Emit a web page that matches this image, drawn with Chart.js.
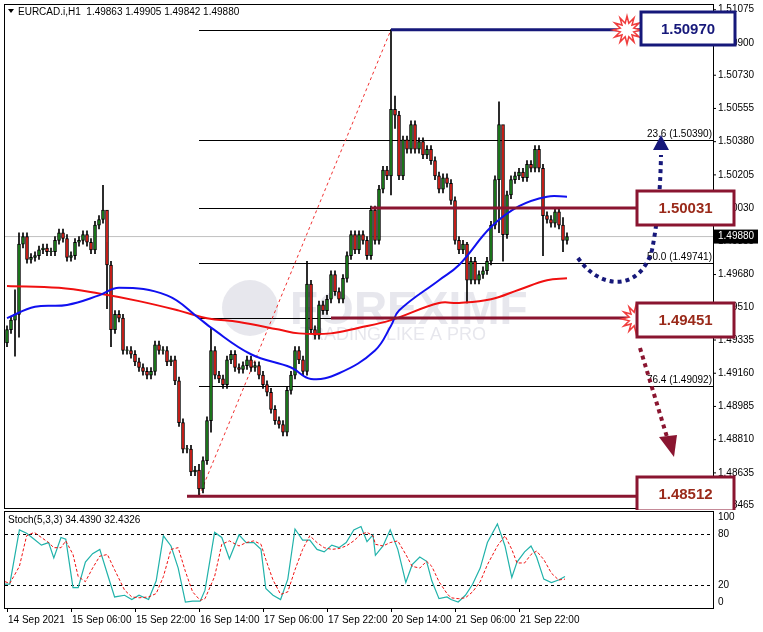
<!DOCTYPE html>
<html>
<head>
<meta charset="utf-8">
<script src="https://cdn.jsdelivr.net/npm/chart.js@4.4.0/dist/chart.umd.min.js"></script>
<style>
  body { margin: 0; background: #fff; font-family: "Liberation Sans", Arial, sans-serif; }
  #wrap { position: relative; width: 763px; height: 632px; background: #f0f0f0; }
  .box { position: absolute; left: 0; width: 763px; background: #fff; }
</style>
</head>
<body>
<div id="wrap">
  <div class="box" style="top:0;height:510px"><canvas id="main"></canvas></div>
  <div class="box" style="top:510px;height:122px"><canvas id="stoch"></canvas></div>
</div>
<script>
// закрытия свечей H1 (бар = 1 час), открытие = предыдущее закрытие
const closes = [
  1.4939, 1.4944, 1.4947, 1.4984, 1.4988, 1.4976, 1.4977, 1.4978, 1.4981, 1.4982,
  1.4980, 1.4980, 1.4986, 1.4990, 1.4987, 1.4977, 1.4978, 1.4985, 1.4986, 1.4989,
  1.4985, 1.4981, 1.4994, 1.4997, 1.5002, 1.4973, 1.4939, 1.4947, 1.4945, 1.4928,
  1.4928, 1.4926, 1.4922, 1.4919, 1.4917, 1.4915, 1.4917, 1.4931, 1.4928, 1.4928,
  1.4922, 1.4923, 1.4912, 1.4890, 1.4876, 1.4876, 1.4864, 1.4865, 1.4855, 1.4870,
  1.4891, 1.4928, 1.4915, 1.4913, 1.4910, 1.4923, 1.4926, 1.4919, 1.4918, 1.4920,
  1.4923, 1.4919, 1.4920, 1.4915, 1.4910, 1.4906, 1.4897, 1.4891, 1.4889, 1.4885,
  1.4907, 1.4915, 1.4928, 1.4923, 1.4917, 1.4963, 1.4939, 1.4936, 1.4952, 1.4949,
  1.4955, 1.4968, 1.4959, 1.4955, 1.4966, 1.4978, 1.4989, 1.4981, 1.4989, 1.4986,
  1.4978, 1.5002, 1.4986, 1.5013, 1.5023, 1.5020, 1.5055, 1.5052, 1.5020, 1.5039,
  1.5034, 1.5047, 1.5034, 1.5038, 1.5031, 1.5034, 1.5028, 1.5020, 1.5013, 1.5019,
  1.5016, 1.5007, 1.4986, 1.4981, 1.4984, 1.4965, 1.4975, 1.4965, 1.4968, 1.4970,
  1.4975, 1.4994, 1.5018, 1.5047, 1.4989, 1.5010, 1.5018, 1.5020, 1.5022, 1.5019,
  1.5026, 1.5024, 1.5034, 1.5024, 1.4999, 1.4997, 1.4995, 1.5001, 1.4994, 1.4986,
  1.4988
]
const firstOpen = 1.4932
// длинные тени: [индекс, максимум, минимум]
const wickOverrides = [
  [2, 1.4960, 1.4925], [3, 1.4990, 1.4935], [24, 1.5015, 1.4995], [25, 1.4985, 1.4950],
  [26, 1.4975, 1.4930], [48, 1.4868, 1.4851], [51, 1.4940, 1.4885], [75, 1.4975, 1.4915],
  [96, 1.5097, 1.5010], [97, 1.5062, 1.5045], [115, 1.4985, 1.4953], [123, 1.5059, 1.4990],
  [124, 1.5045, 1.4975], [134, 1.5026, 1.4978], [139, 1.4998, 1.4980]
]
const maFastBars = [0, 7, 15, 23, 28, 40, 48, 51, 61, 71, 76, 83, 92, 96, 98, 108, 113, 121, 128, 135, 140]
const maFastVals = [1.4945, 1.4951, 1.4952, 1.4957, 1.4961, 1.4957, 1.4945, 1.4940, 1.4926, 1.4919, 1.4913,
  1.4916, 1.4928, 1.4941, 1.4949, 1.4965, 1.4973, 1.4993, 1.5004, 1.5009, 1.5009]
const maSlowBars = [0, 13, 23, 33, 43, 50, 58, 68, 73, 81, 88, 96, 108, 113, 121, 128, 135, 140]
const maSlowVals = [1.4962, 1.4961, 1.4958, 1.4954, 1.4949, 1.4945, 1.4943, 1.4939, 1.4937, 1.4937,
  1.4940, 1.4944, 1.4953, 1.4953, 1.4955, 1.4960, 1.4965, 1.4966]
const stochBars = [-0.5, 0.7, 3.1, 4.9, 6.8, 8.6, 10.4, 11.7, 13.5, 14.7, 16.5, 17.8, 19.6, 21.4, 23.2, 25.1,
  26.9, 29.4, 31.2, 33.0, 35.4, 37.3, 39.1, 41.0, 42.8, 44.6, 46.4, 48.3, 49.5, 51.9, 53.7, 55.6,
  58.0, 59.8, 61.7, 63.5, 64.7, 66.5, 68.4, 70.2, 72.0, 73.9, 75.7, 77.5, 79.3, 81.2, 83.0, 84.8,
  86.7, 88.5, 90.0, 91.5, 92.1, 94.0, 95.8, 97.7, 99.7, 101.3, 103.2, 104.9, 106.2, 108.0, 110.0,
  111.0, 112.8, 114.6, 116.4, 118.3, 120.1, 122.6, 124.5, 126.2, 127.5, 129.4, 131.0, 132.4, 134.2,
  136.1, 137.9, 139.5]
const stochK = [21, 21, 85, 81, 74, 67, 70, 52, 76, 74, 17, 17, 47, 57, 62, 33, 6, 8, 3, 8, 3, 25, 78,
  66, 40, 0, 1, 1, 14, 82, 76, 51, 79, 70, 70, 62, 16, 8, 3, 27, 86, 73, 73, 62, 59, 67, 64, 70, 85,
  89, 71, 79, 55, 66, 85, 62, 23, 44, 53, 48, 25, 4, 6, 3, 0, 8, 21, 40, 70, 92, 66, 29, 47, 59, 66,
  53, 27, 23, 26, 30]
const stochD = [24, 22, 42, 78, 82, 76, 70, 64, 64, 72, 56, 30, 24, 40, 54, 56, 38, 14, 6, 5, 6, 10, 30,
  62, 64, 36, 12, 2, 4, 30, 68, 72, 66, 70, 72, 68, 50, 26, 9, 12, 38, 62, 78, 70, 64, 62, 63, 66, 72,
  80, 82, 78, 68, 66, 70, 72, 56, 42, 40, 48, 42, 24, 10, 5, 4, 5, 12, 24, 44, 66, 78, 62, 46, 46, 56,
  60, 50, 34, 26, 27]
const priceTicks = [1.51075, 1.50900, 1.50730, 1.50555, 1.50380, 1.50205, 1.50030, 1.49855,
  1.49680, 1.49510, 1.49335, 1.49160, 1.48985, 1.48810, 1.48635, 1.48465]
const timeLabels = ['14 Sep 2021', '15 Sep 06:00', '15 Sep 22:00', '16 Sep 14:00', '17 Sep 06:00',
  '17 Sep 22:00', '20 Sep 14:00', '21 Sep 06:00', '21 Sep 22:00']
// уровни Фибоначчи
const fibLevels = [1.50970, 1.50390, 1.50031, 1.49741, 1.49451, 1.49092, 1.48512]
const fibStart = 48, fibEnd = 96

const X_MIN = -0.5, X_MAX = 176.5
const Y_MIN = 1.4845, Y_MAX = 1.5110
const SMALL_FONT = '10px "Liberation Sans", Arial, sans-serif'

// свечи
const bodies = [], wicks = [], bodyColors = []
closes.forEach((c, i) => {
  const o = i === 0 ? firstOpen : closes[i - 1]
  let hi = Math.max(o, c) + 0.0002, lo = Math.min(o, c) - 0.0002
  const ov = wickOverrides.find(w => w[0] === i)
  if (ov) { hi = ov[1]; lo = ov[2] }
  const lowB = Math.min(o, c), highB = Math.max(o, c)
  bodies.push({ x: i, y: [lowB, highB === lowB ? lowB + 0.00003 : highB] })
  wicks.push({ x: i, y: [lo, hi] })
  bodyColors.push(c >= o ? '#1f8a1f' : '#e8231c')
})

function starburst(ctx, cx, cy, r1, r2) {
  ctx.beginPath()
  for (let k = 0; k < 24; k++) {
    const a = k * Math.PI / 12
    const r = k % 2 ? r2 : r1
    ctx.lineTo(cx + r * Math.cos(a), cy + r * Math.sin(a))
  }
  ctx.closePath()
  ctx.fillStyle = '#fff'; ctx.fill()
  ctx.strokeStyle = '#f03c3c'; ctx.lineWidth = 1.5; ctx.stroke()
}

function labelBox(ctx, x, y, w, h, text, color) {
  ctx.fillStyle = '#fff'
  ctx.fillRect(x, y, w, h)
  ctx.strokeStyle = color; ctx.lineWidth = 3
  ctx.strokeRect(x, y, w, h)
  ctx.fillStyle = color === '#16187a' ? '#16187a' : '#9a2a1a'
  ctx.font = 'bold 15px "Liberation Sans", Arial, sans-serif'
  ctx.textAlign = 'center'; ctx.textBaseline = 'middle'
  ctx.fillText(text, x + w / 2, y + h / 2 + 1)
}

function triangle(ctx, x1, y1, x2, y2, x3, y3, color) {
  ctx.beginPath(); ctx.moveTo(x1, y1); ctx.lineTo(x2, y2); ctx.lineTo(x3, y3); ctx.closePath()
  ctx.fillStyle = color; ctx.fill()
}

const backdrop = {
  id: 'backdrop',
  beforeDatasetsDraw(chart) {
    const { ctx, chartArea: a, scales: { x, y } } = chart
    ctx.save()
    // водяной знак
    ctx.fillStyle = 'rgba(170,170,190,0.28)'
    ctx.font = 'bold 46px "Liberation Sans", Arial, sans-serif'
    ctx.textAlign = 'left'; ctx.textBaseline = 'alphabetic'
    ctx.beginPath(); ctx.arc(250, 308, 28, 0, Math.PI * 2); ctx.fill()
    ctx.fillText('FOREXIMF', 290, 324)
    ctx.font = '18px "Liberation Sans", Arial, sans-serif'
    ctx.fillText('TRADING LIKE A PRO', 300, 340)
    // текущая цена
    const yc = y.getPixelForValue(closes[closes.length - 1])
    ctx.strokeStyle = '#c0c0c0'; ctx.lineWidth = 1
    ctx.beginPath(); ctx.moveTo(a.left, yc); ctx.lineTo(a.right, yc); ctx.stroke()
    // линии Фибоначчи
    const fx = x.getPixelForValue(fibStart)
    ctx.strokeStyle = '#000'
    fibLevels.forEach(v => {
      const py = Math.round(y.getPixelForValue(v)) + 0.5
      ctx.beginPath(); ctx.moveTo(fx, py); ctx.lineTo(a.right, py); ctx.stroke()
    })
    ctx.setLineDash([3, 3]); ctx.strokeStyle = '#f03030'
    ctx.beginPath()
    ctx.moveTo(fx, y.getPixelForValue(fibLevels[6]))
    ctx.lineTo(x.getPixelForValue(fibEnd), y.getPixelForValue(fibLevels[0]))
    ctx.stroke(); ctx.setLineDash([])
    ctx.restore()
  },
  afterDatasetsDraw(chart) {
    const { ctx, chartArea: a, scales: { x, y } } = chart
    ctx.save()
    // толстые уровни
    const thick = [[fibLevels[0], 96, '#16187a'], [fibLevels[2], 91, '#8a1530'],
      [fibLevels[4], 81, '#8a1530'], [fibLevels[6], 45, '#8a1530']]
    thick.forEach(([v, b, col]) => {
      const py = y.getPixelForValue(v)
      ctx.strokeStyle = col; ctx.lineWidth = 3
      ctx.beginPath(); ctx.moveTo(x.getPixelForValue(b), py); ctx.lineTo(640, py); ctx.stroke()
    })
    // подписи Фибоначчи
    ctx.fillStyle = '#000'; ctx.font = SMALL_FONT
    ctx.textAlign = 'right'; ctx.textBaseline = 'bottom'
    ctx.fillText('23.6 (1.50390)', a.right - 1, y.getPixelForValue(fibLevels[1]) - 1)
    ctx.fillText('50.0 (1.49741)', a.right - 1, y.getPixelForValue(fibLevels[3]) - 1)
    ctx.fillText('76.4 (1.49092)', a.right - 1, y.getPixelForValue(fibLevels[5]) - 1)
    // рамка и ось цен
    ctx.strokeStyle = '#000'; ctx.lineWidth = 1
    ctx.strokeRect(a.left - 0.5, a.top - 0.5, a.right - a.left + 1, a.bottom - a.top + 1)
    ctx.font = SMALL_FONT
    ctx.textAlign = 'left'; ctx.textBaseline = 'middle'
    priceTicks.forEach(v => {
      const py = y.getPixelForValue(v)
      ctx.fillStyle = '#000'
      ctx.beginPath(); ctx.moveTo(a.right, py); ctx.lineTo(a.right + 3, py); ctx.stroke()
      ctx.fillText(v.toFixed(5), a.right + 5, py)
    })
    const yc = y.getPixelForValue(closes[closes.length - 1])
    ctx.fillStyle = '#000'; ctx.fillRect(a.right + 1, yc - 7, 44, 14)
    ctx.fillStyle = '#fff'; ctx.fillText('1.49880', a.right + 5, yc)
    // стрелки
    ctx.lineWidth = 4; ctx.setLineDash([4, 4])
    ctx.strokeStyle = '#16187a'
    ctx.beginPath(); ctx.moveTo(578, 258)
    ctx.bezierCurveTo(600, 290, 640, 292, 652, 250)
    ctx.quadraticCurveTo(660, 210, 661, 155); ctx.stroke()
    ctx.strokeStyle = '#8a1530'
    ctx.beginPath(); ctx.moveTo(640, 348); ctx.lineTo(667, 437); ctx.stroke()
    ctx.setLineDash([])
    triangle(ctx, 653, 150, 669, 150, 661, 135, '#16187a')
    triangle(ctx, 659, 437, 677, 435, 674, 457, '#8a1530')
    // метки
    starburst(ctx, 627, 30, 14, 7)
    starburst(ctx, 636, 319, 14, 7)
    labelBox(ctx, 641, 12, 94, 33, '1.50970', '#16187a')
    labelBox(ctx, 637, 191, 97, 34, '1.50031', '#8a1530')
    labelBox(ctx, 637, 303, 97, 34, '1.49451', '#8a1530')
    labelBox(ctx, 637, 477, 97, 34, '1.48512', '#8a1530')
    // заголовок
    ctx.font = SMALL_FONT; ctx.textAlign = 'left'; ctx.textBaseline = 'middle'
    triangle(ctx, 8, 9, 14, 9, 11, 13, '#000')
    ctx.fillStyle = '#000'
    ctx.fillText('EURCAD.i,H1  1.49863 1.49905 1.49842 1.49880', 18, 12)
    ctx.restore()
  }
}

new Chart(document.getElementById('main'), {
  data: {
    datasets: [
      { type: 'bar', data: wicks, backgroundColor: '#000', barThickness: 1, grouped: false, order: 3 },
      { type: 'bar', data: bodies, backgroundColor: bodyColors, borderColor: '#000', borderWidth: 1,
        borderSkipped: false, barThickness: 3, grouped: false, order: 2 },
      { type: 'line', data: maSlowBars.map((b, i) => ({ x: b, y: maSlowVals[i] })), borderColor: '#f01010',
        borderWidth: 2, pointRadius: 0, tension: 0.4, order: 1 },
      { type: 'line', data: maFastBars.map((b, i) => ({ x: b, y: maFastVals[i] })), borderColor: '#1010f0',
        borderWidth: 2, pointRadius: 0, tension: 0.4, order: 0 }
    ]
  },
  options: {
    responsive: true, maintainAspectRatio: false, animation: false,
    layout: { padding: { left: 5, top: 5, right: 50, bottom: 2 } },
    plugins: { legend: { display: false }, tooltip: { enabled: false } },
    scales: {
      x: { type: 'linear', min: X_MIN, max: X_MAX, offset: false, display: false },
      y: { type: 'linear', min: Y_MIN, max: Y_MAX, display: false }
    }
  },
  plugins: [backdrop]
})

const stochDecor = {
  id: 'stochDecor',
  beforeDatasetsDraw(chart) {
    const { ctx, chartArea: a, scales: { y } } = chart
    ctx.save()
    ctx.strokeStyle = '#000'; ctx.setLineDash([3, 3]); ctx.lineWidth = 1
    ;[80, 20].forEach(v => {
      const py = Math.round(y.getPixelForValue(v)) + 0.5
      ctx.beginPath(); ctx.moveTo(a.left, py); ctx.lineTo(a.right, py); ctx.stroke()
    })
    ctx.restore()
  },
  afterDatasetsDraw(chart) {
    const { ctx, chartArea: a, scales: { x, y } } = chart
    ctx.save()
    ctx.strokeStyle = '#000'; ctx.lineWidth = 1
    ctx.strokeRect(a.left - 0.5, a.top - 0.5, a.right - a.left + 1, a.bottom - a.top + 1)
    ctx.fillStyle = '#000'; ctx.font = SMALL_FONT
    ctx.textBaseline = 'middle'; ctx.textAlign = 'left'
    ctx.fillText('Stoch(5,3,3) 34.4390 32.4326', a.left + 3, a.top + 8)
    ;[100, 80, 20, 0].forEach(v => ctx.fillText(String(v), a.right + 5, y.getPixelForValue(v)))
    timeLabels.forEach((t, k) => {
      const px = x.getPixelForValue(k * 16)
      ctx.beginPath(); ctx.moveTo(px + 0.5, a.bottom); ctx.lineTo(px + 0.5, a.bottom + 4); ctx.stroke()
      ctx.fillText(t, px + 1, a.bottom + 12)
    })
    ctx.restore()
  }
}

new Chart(document.getElementById('stoch'), {
  type: 'line',
  data: {
    datasets: [
      { data: stochBars.map((b, i) => ({ x: b, y: stochD[i] })), borderColor: '#f01010', borderWidth: 1,
        borderDash: [3, 2], pointRadius: 0 },
      { data: stochBars.map((b, i) => ({ x: b, y: stochK[i] })), borderColor: '#20b2aa', borderWidth: 1.2,
        pointRadius: 0 }
    ]
  },
  options: {
    responsive: true, maintainAspectRatio: false, animation: false,
    layout: { padding: { left: 5, top: 2, right: 50, bottom: 24 } },
    plugins: { legend: { display: false }, tooltip: { enabled: false } },
    scales: {
      x: { type: 'linear', min: X_MIN, max: X_MAX, display: false },
      y: { min: -7, max: 106, display: false }
    }
  },
  plugins: [stochDecor]
})
</script>
</body>
</html>
